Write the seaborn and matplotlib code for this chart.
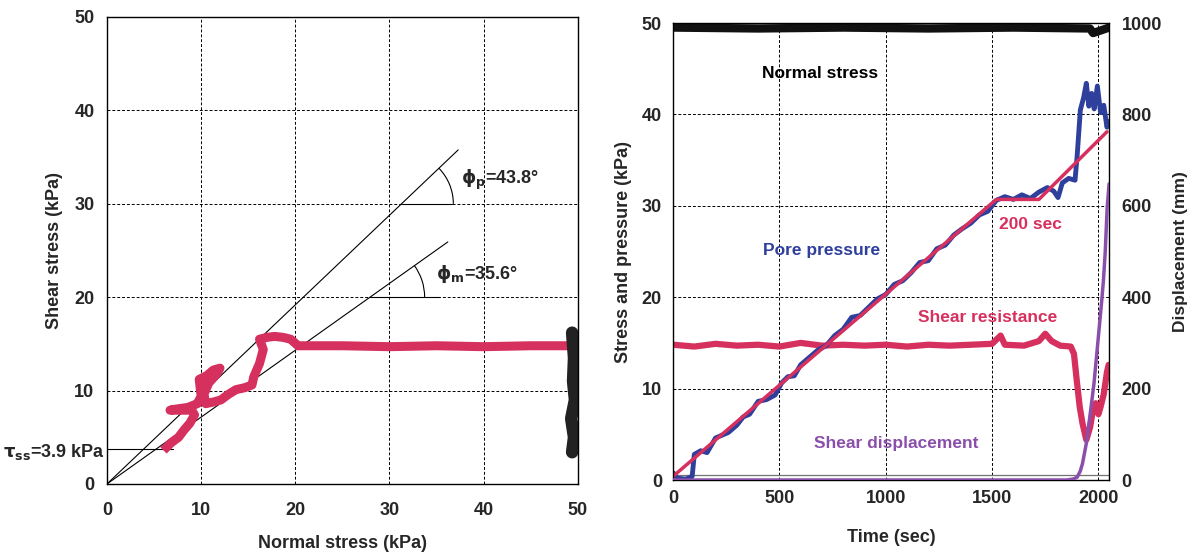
import numpy as np
import pandas as pd
import matplotlib
matplotlib.use("Agg")
import matplotlib.pyplot as plt
from matplotlib.patches import Arc
import seaborn as sns

# ======================
# DATA
# ======================
# left panel: stress path
path_normal = [6.0, 6.8, 7.6, 8.2, 8.8, 9.3, 9.0, 8.0, 6.7, 7.2, 8.6, 9.6, 10.0, 9.9, 9.8,
               10.6, 11.3, 12.0, 11.6, 10.8, 10.3, 10.5, 11.4, 12.1, 12.9, 13.7, 14.6, 15.4,
               15.6, 16.2, 16.6, 16.2, 17.0, 17.8, 18.7, 19.5, 20.3, 25.0, 30.0, 35.0, 40.0,
               45.0, 49.6]
path_shear = [3.6, 4.4, 5.0, 5.8, 6.5, 7.4, 7.9, 7.9, 7.9, 8.0, 8.2, 8.6, 9.4, 10.3, 11.2,
              11.6, 12.2, 12.4, 11.7, 10.8, 9.6, 8.6, 8.8, 9.0, 9.6, 10.1, 10.3, 10.6,
              11.5, 12.9, 14.4, 15.5, 15.7, 15.8, 15.7, 15.5, 14.8, 14.8, 14.7, 14.8, 14.7,
              14.8, 14.8]
# final stage: vertical drop at constant normal stress
drop_normal = [49.4, 49.6, 49.3, 49.7, 49.5, 49.6, 49.4]
drop_shear = [3.4, 5.0, 7.0, 9.0, 11.0, 13.5, 16.2]

phi_p = 43.8
phi_m = 35.6
tau_ss = 3.9

# right panel: time series
t_normal = [0, 400, 800, 1200, 1600, 1960, 1975, 2050]
normal_stress = [49.5, 49.4, 49.5, 49.4, 49.5, 49.4, 48.9, 49.5]

t_pore = [0, 20, 60, 90, 100, 130, 160, 200, 260, 300, 330, 360, 400, 440, 480, 510, 540,
          570, 600, 640, 680, 720, 760, 800, 840, 880, 920, 960, 1000, 1040, 1080, 1120,
          1160, 1200, 1240, 1280, 1320, 1360, 1400, 1440, 1480, 1520, 1560, 1600, 1640,
          1680, 1720, 1760, 1790, 1810, 1830, 1860, 1890, 1900, 1915, 1930, 1943, 1955,
          1968, 1980, 1995, 2010, 2025, 2040, 2048]
pore_pressure = [0.8, 0.2, 0.1, 0.4, 2.8, 3.2, 3.0, 4.6, 5.2, 6.0, 6.9, 7.2, 8.6, 8.8, 9.3,
                 10.6, 11.3, 11.4, 12.6, 13.4, 14.2, 14.7, 15.8, 16.5, 17.8, 18.0, 18.9,
                 19.8, 20.3, 21.4, 21.8, 22.7, 23.8, 24.0, 25.3, 25.7, 26.8, 27.5, 28.1,
                 29.0, 29.4, 30.6, 31.0, 30.7, 31.2, 30.8, 31.5, 32.0, 31.6, 30.9, 32.5,
                 33.0, 32.8, 35.5, 40.5, 41.8, 43.4, 40.9, 42.3, 40.6, 43.1, 40.2, 41.0,
                 38.6, 39.2]

t_ramp = [0, 1520, 1720, 2040]
pore_ramp = [0.4, 30.7, 30.7, 38.1]

t_resist = [0, 100, 200, 300, 400, 500, 600, 700, 800, 900, 1000, 1100, 1200, 1300, 1400,
            1500, 1540, 1560, 1650, 1720, 1750, 1780, 1820, 1870, 1885, 1898, 1912, 1925,
            1943, 1961, 1975, 1987, 2000, 2010, 2025, 2040, 2048]
shear_resist = [14.8, 14.6, 14.9, 14.7, 14.8, 14.6, 15.0, 14.7, 14.8, 14.7, 14.8, 14.6,
                14.8, 14.7, 14.8, 14.9, 15.8, 14.8, 14.7, 15.2, 16.0, 15.2, 14.7, 14.6,
                13.8, 10.9, 8.0, 6.2, 4.4, 5.8, 7.8, 8.4, 7.2, 8.0, 9.4, 11.8, 12.6]

t_disp = [0, 1850, 1880, 1900, 1915, 1925, 1943, 1960, 1979, 1995, 2014, 2023, 2032, 2041, 2050]
shear_disp = [0, 0, 2, 6, 20, 36, 80, 140, 211, 290, 385, 434, 500, 596, 648]

PINK = "#d6305e"
BLUE = "#2f3f9c"
PURPLE = "#8a4fab"

# ======================
# STYLE
# ======================
sns.set_style("white")
plt.rcParams["font.family"] = ["Liberation Sans", "DejaVu Sans"]
plt.rcParams["font.weight"] = "bold"
plt.rcParams["axes.labelweight"] = "bold"
plt.rcParams["mathtext.fontset"] = "dejavusans"
plt.rcParams["mathtext.default"] = "bf"

fig = plt.figure(figsize=(11.95, 5.53), dpi=100)
ax1 = fig.add_axes([0.0895, 0.1248, 0.394, 0.8445])
ax2 = fig.add_axes([0.5632, 0.132, 0.3649, 0.8264])


def style_axes(ax):
    ax.grid(True, color="black", linestyle=(0, (3, 2)), linewidth=0.7)
    ax.set_axisbelow(True)
    for s in ax.spines.values():
        s.set_color("black")
        s.set_linewidth(1.0)
    ax.tick_params(length=0, labelsize=13)


# ======================
# LEFT PANEL
# ======================
style_axes(ax1)
ax1.tick_params(axis="x", pad=13)
ax1.tick_params(axis="y", pad=9)

xs = np.array([0, 37.3])
ax1.plot(xs, np.tan(np.radians(phi_p)) * xs, color="black", lw=0.8)
xs = np.array([0, 36.2])
ax1.plot(xs, np.tan(np.radians(phi_m)) * xs, color="black", lw=0.8)

xp = 30 / np.tan(np.radians(phi_p))
xm = 20 / np.tan(np.radians(phi_m))
ax1.plot([xp, xp + 5.4], [30, 30], color="black", lw=0.8)
ax1.plot([xm, xm + 7.3], [20, 20], color="black", lw=0.8)
ax1.add_patch(Arc((xp, 30), 11, 11, theta1=0, theta2=phi_p, color="black", lw=0.8))
ax1.add_patch(Arc((xm, 20), 11.6, 11.6, theta1=0, theta2=phi_m, color="black", lw=0.8))
ax1.plot([0, 7.0], [3.7, 3.7], color="black", lw=0.8)

sns.lineplot(x=path_normal, y=path_shear, sort=False, estimator=None, ax=ax1,
             color=PINK, lw=6.5, solid_capstyle="butt")
sns.lineplot(x=drop_normal, y=drop_shear, sort=False, estimator=None, ax=ax1,
             color="#222222", lw=9)

ax1.text(37.6, 32.6, r"$\phi_\mathrm{p}$=43.8°", fontsize=13, va="center", ha="left")
ax1.text(34.9, 22.5, r"$\phi_\mathrm{m}$=35.6°", fontsize=13, va="center", ha="left")
ax1.text(-0.2, 3.4, r"$\tau_\mathrm{ss}$=3.9 kPa", fontsize=13, va="center", ha="right",
         clip_on=False)

ax1.set_xlim(0, 50)
ax1.set_ylim(0, 50)
ax1.set_xticks(range(0, 51, 10))
ax1.set_yticks(range(0, 51, 10))
ax1.set_xlabel("Normal stress (kPa)", fontsize=13)
ax1.set_ylabel("Shear stress (kPa)", fontsize=13)
ax1.xaxis.set_label_coords(0.5, -0.109)
ax1.yaxis.set_label_coords(-0.093, 0.5)

# ======================
# RIGHT PANEL
# ======================
style_axes(ax2)
ax2.tick_params(axis="x", pad=7)
ax2.tick_params(axis="y", pad=8)
ax3 = ax2.twinx()
ax3.tick_params(length=0, labelsize=13, pad=9)
for s in ax3.spines.values():
    s.set_visible(False)

ax2.axhline(0.55, color="0.45", lw=0.9)
sns.lineplot(x=t_normal, y=normal_stress, sort=False, estimator=None, ax=ax2,
             color="#111111", lw=6)
sns.lineplot(x=t_resist, y=shear_resist, sort=False, estimator=None, ax=ax2,
             color=PINK, lw=4.5)
sns.lineplot(x=t_pore, y=pore_pressure, sort=False, estimator=None, ax=ax2,
             color=BLUE, lw=3.5)
sns.lineplot(x=t_ramp, y=pore_ramp, sort=False, estimator=None, ax=ax2,
             color=PINK, lw=2.5)
sns.lineplot(x=t_disp, y=shear_disp, sort=False, estimator=None, ax=ax3,
             color=PURPLE, lw=2.5)

ax2.text(690, 44.5, "Normal stress", color="black", fontsize=12.5, ha="center", va="center")
ax2.text(700, 25.1, "Pore pressure", color=BLUE, fontsize=12.5, ha="center", va="center")
ax2.text(1680, 27.9, "200 sec", color=PINK, fontsize=12.5, ha="center", va="center")
ax2.text(1480, 17.8, "Shear resistance", color=PINK, fontsize=12.5, ha="center", va="center")
ax2.text(1050, 4.0, "Shear displacement", color=PURPLE, fontsize=12.5, ha="center", va="center")

ax2.set_xlim(0, 2050)
ax2.set_ylim(0, 50)
ax3.set_ylim(0, 1000)
ax2.set_xticks(range(0, 2001, 500))
ax2.set_yticks(range(0, 51, 10))
ax3.set_yticks(range(0, 1001, 200))
ax2.set_xlabel("Time (sec)", fontsize=13)
ax2.set_ylabel("Stress and pressure (kPa)", fontsize=13)
ax3.set_ylabel("Displacement (mm)", fontsize=12.5)
ax2.xaxis.set_label_coords(0.5, -0.107)
ax2.yaxis.set_label_coords(-0.094, 0.5)
ax3.yaxis.set_label_coords(1.147, 0.5)

fig.savefig("out.png", dpi=100)
